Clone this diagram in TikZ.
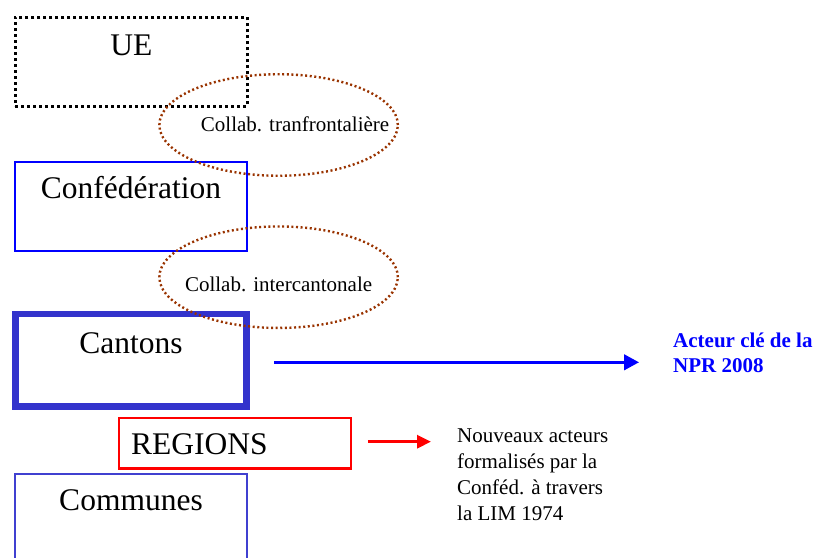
\documentclass[tikz,border=0pt]{standalone}
\usepackage{fontspec}
\setmainfont{Liberation Serif}
\usetikzlibrary{shapes.geometric, arrows.meta}

\definecolor{collabbrown}{RGB}{153,51,0}
\definecolor{cantonblue}{RGB}{51,51,204}
\definecolor{commblue}{RGB}{64,64,208}

\begin{document}
\begin{tikzpicture}[x=1pt,y=1pt,yscale=-1,
  level/.style={draw, rectangle, inner sep=0pt, minimum width=232pt, font=\fontsize{31.5}{36}\selectfont},
  collab/.style={draw=collabbrown, ellipse, line width=2.4pt, dash pattern=on 2pt off 2.6pt, minimum width=238.5pt, minimum height=101.5pt, inner sep=0pt},
  smalltext/.style={inner sep=0pt, font=\fontsize{21}{25.7}\selectfont},
  bluearrow/.style={draw=blue, line width=2.8pt, -{Triangle[length=15pt,width=15.5pt]}},
  redarrow/.style={draw=red, line width=3pt, -{Triangle[length=14pt,width=13pt]}}
]
\useasboundingbox (0,0) rectangle (814,557);
\clip (0,0) rectangle (814,557);

% levels
\node [level, line width=3pt, dash pattern=on 3pt off 3pt, minimum height=89pt, text height=37.7pt, text depth=51.3pt] (ue) at (131.3,61.8) {UE};
\node [level, draw=blue, line width=2.3pt, minimum height=88.5pt, text height=36.1pt, text depth=52.4pt] (confed) at (131,206.5) {Confédération};
\node [level, draw=cantonblue, line width=6.7pt, minimum width=231.5pt, minimum height=92.7pt, text height=39.3pt, text depth=53.4pt] (cantons) at (131,360.3) {Cantons};
\node [level, draw=red, line width=2.3pt, minimum height=50.7pt, text height=36.5pt, text depth=14.2pt, text width=208pt, inner xsep=12pt, align=left] (regions) at (235.1,443.2) {REGIONS};
\node [level, draw=commblue, line width=2pt, minimum height=100pt, text height=35.8pt, text depth=64.2pt] (communes) at (131,524.2) {Communes};

% collaborations
\node [collab] (trans) at (278.6,125) {};
\node [smalltext, anchor=base] (transtext) at ([xshift=16.5pt, yshift=6pt]trans.center) {Collab. tranfrontalière};
\node [collab] (inter) at (278.6,277.2) {};
\node [smalltext, anchor=base] (intertext) at ([yshift=14.5pt]inter.center) {Collab. intercantonale};

% Text Node
\node [smalltext, anchor=base west, align=left, text=blue, font=\fontsize{21}{25}\selectfont\bfseries] (acteur) at (673,372) {Acteur clé de la\\NPR 2008};
% Text Node
\node [smalltext, anchor=base west, align=left] (nouveaux) at (457,520) {Nouveaux acteurs\\formalisés par la\\Conféd. à travers\\la LIM 1974};

\coordinate (ctip) at (639,362.3);
\coordinate (rtip) at (431,441.7);
\draw [bluearrow] ([xshift=24.3pt, yshift=2pt]cantons.east) -- (ctip);
\draw [redarrow] ([xshift=15.5pt, yshift=-1.5pt]regions.east) -- (rtip);
\end{tikzpicture}
\end{document}
